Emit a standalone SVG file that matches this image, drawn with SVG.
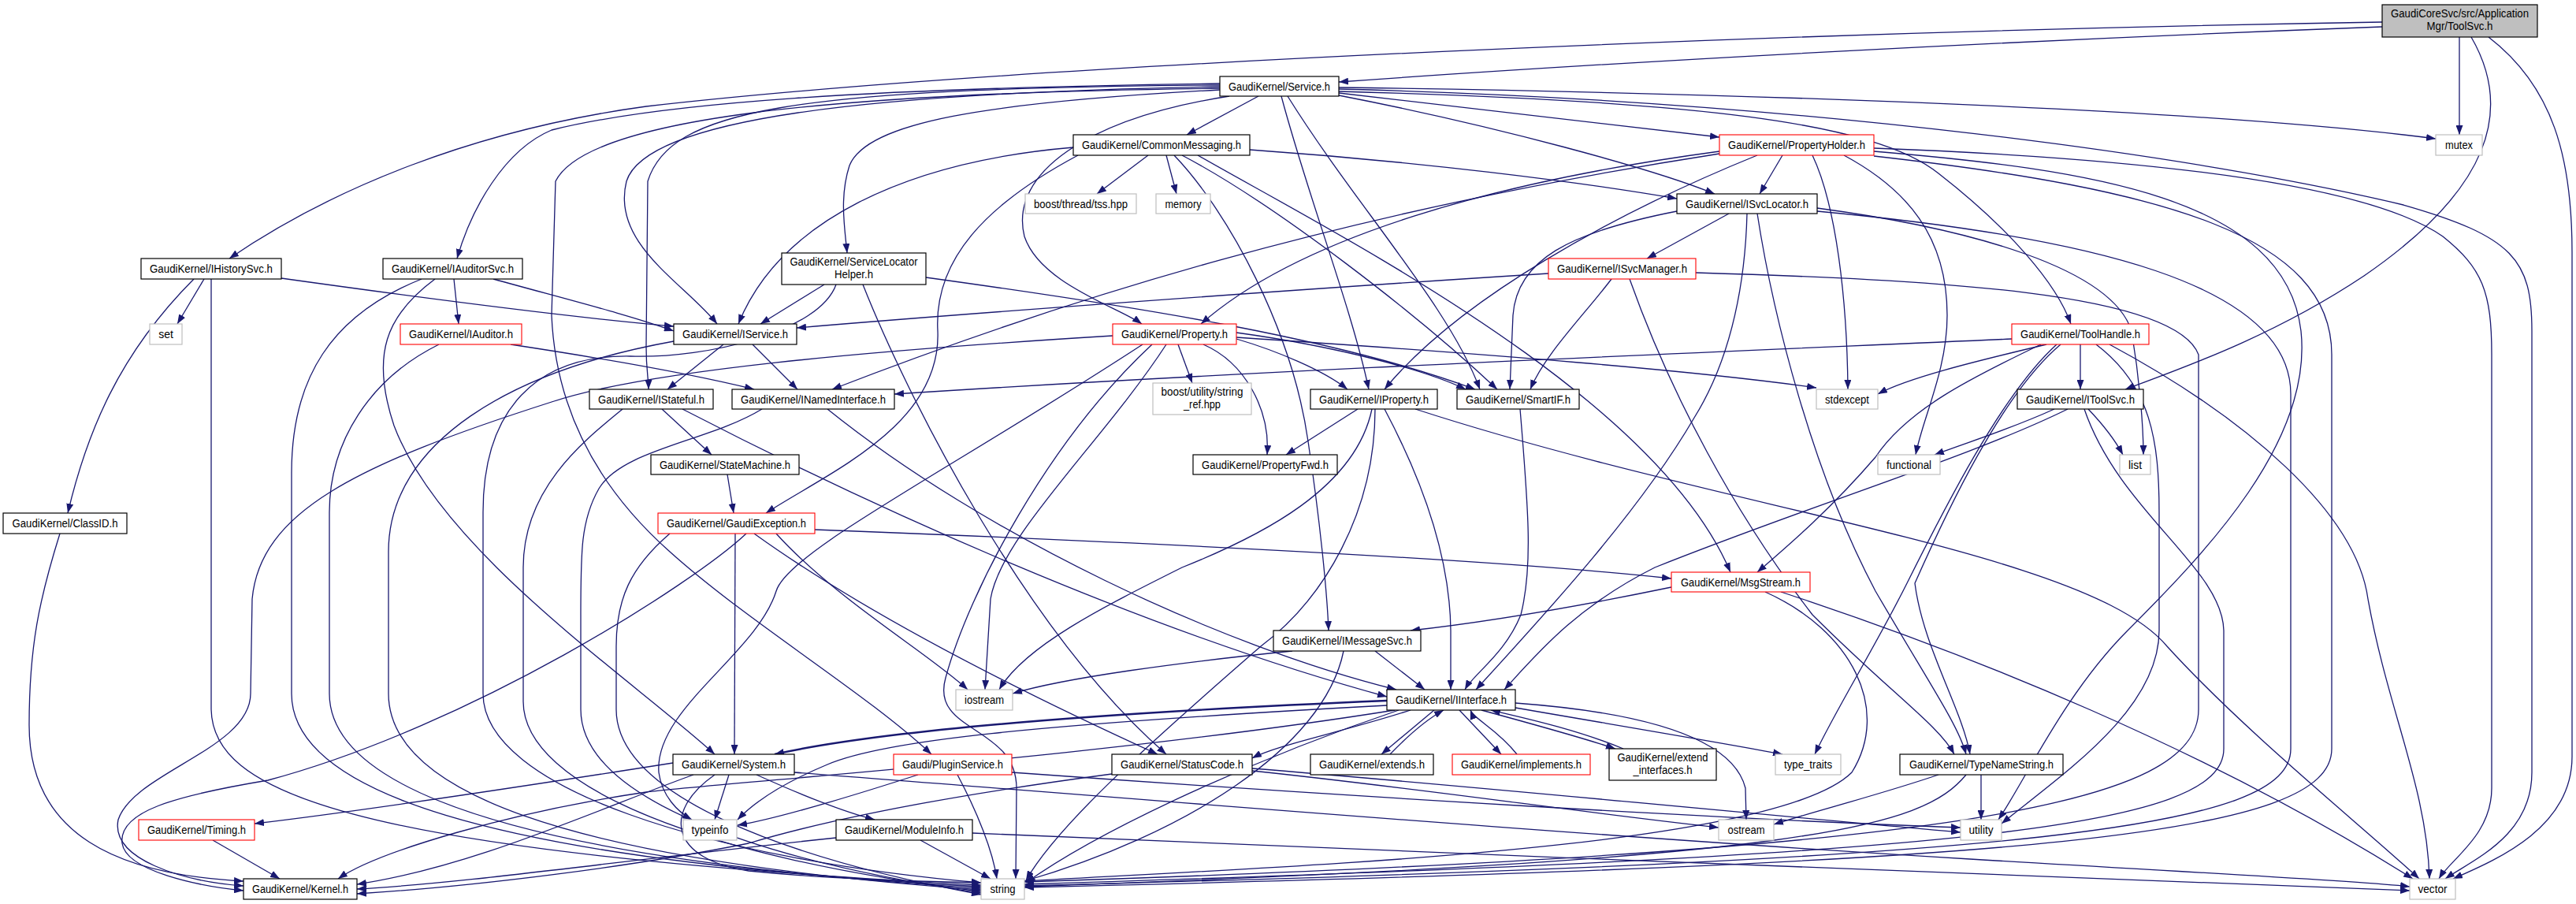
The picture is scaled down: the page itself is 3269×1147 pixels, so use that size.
<svg xmlns="http://www.w3.org/2000/svg" width="3269" height="1147" viewBox="0 0 3269 1147">
<defs>
<marker id="ah" markerUnits="userSpaceOnUse" markerWidth="12" markerHeight="9" refX="12" refY="4.5" orient="auto">
<path d="M0,0 L12,4.5 L0,9 z" fill="#191970"/>
</marker>
<style>
.e{fill:none;stroke:#191970;stroke-width:1.3;marker-end:url(#ah)}
.th{stroke-width:2.4}
.n{fill:#fff;stroke:#000;stroke-width:1.2}
.r{fill:#fff;stroke:#ff0000;stroke-width:1.1}
.g{fill:#fff;stroke:#bfbfbf;stroke-width:1.2}
.root{fill:#bfbfbf;stroke:#000;stroke-width:1.2}
.t{font-family:"Liberation Sans",Arial,sans-serif;font-size:14px;fill:#000;text-anchor:middle}
</style>
</defs>
<rect x="0" y="0" width="3269" height="1147" fill="#fff"/>
<g id="edges">
<path class="e" d="M3023,34 C2600,50 2100,75 1699,104"/>
<path class="e" d="M3023,28 C2300,40 1300,80 820,135 C600,165 420,240 291,328"/>
<path class="e" d="M3121,47 L3121,171"/>
<path class="e" d="M3136,47 C3190,140 3160,240 3000,350 C2880,430 2760,470 2697,494"/>
<path class="e" d="M3158,47 C3240,110 3264,200 3264,320 L3264,960 C3264,1050 3170,1090 3113,1115"/>
<path class="e" d="M1699,111 C2200,118 2800,138 3091,176"/>
<path class="e" d="M1699,113 C2300,128 2800,200 3050,260 C3190,300 3213,330 3213,420 L3213,980 C3213,1060 3140,1090 3103,1115"/>
<path class="e" d="M1699,116 C2150,128 2380,155 2460,220 C2550,290 2610,360 2628,411"/>
<path class="e" d="M1699,118 L2182,174"/>
<path class="e" d="M1699,121 C1900,160 2100,215 2176,246"/>
<path class="e" d="M1634,122 C1720,260 1840,390 1878,494"/>
<path class="e" d="M1626,122 C1660,250 1715,390 1737,494"/>
<path class="e" d="M1560,122 C1380,150 1280,220 1300,300 C1320,360 1420,390 1449,411"/>
<path class="e" d="M1597,122 L1506,171"/>
<path class="e" d="M1548,110 C1100,118 820,150 795,230 C775,310 870,360 910,411"/>
<path class="e" d="M1548,108 C1000,112 850,140 822,230 L820,440 C820,470 823,480 823,494"/>
<path class="e" d="M1548,106 C1100,112 840,130 700,165 C640,190 598,265 580,328"/>
<path class="e" d="M1548,114 C1250,130 1100,155 1078,210 C1065,250 1072,290 1075,321"/>
<path class="e" d="M1548,112 C1050,118 745,150 705,230 L700,400 C705,520 760,620 850,700 C950,790 1100,880 1182,957"/>
<path class="e" d="M1457,197 L1392,246"/>
<path class="e" d="M1480,197 L1493,246"/>
<path class="e" d="M1362,187 C1150,205 990,280 937,411"/>
<path class="e" d="M1586,190 C1800,205 2000,230 2128,252"/>
<path class="e" d="M1500,197 C1620,260 1800,400 1900,494"/>
<path class="e" d="M1520,197 C1700,300 2100,500 2196,726"/>
<path class="e" d="M1490,197 C1560,270 1640,420 1660,560 C1675,660 1684,750 1686,800"/>
<path class="e" d="M1368,197 C1250,260 1185,330 1190,420 C1195,540 1050,600 972,651"/>
<path class="e" d="M2262,197 L2233,246"/>
<path class="e" d="M2182,192 C1900,230 1650,300 1524,411"/>
<path class="e" d="M2230,197 C2050,270 1850,380 1757,494"/>
<path class="e" d="M2182,195 C1700,270 1350,380 1056,494"/>
<path class="e" d="M2300,197 C2330,260 2344,380 2345,494"/>
<path class="e" d="M2340,197 C2420,240 2471,300 2471,400 C2471,470 2440,530 2431,577"/>
<path class="e" d="M2378,192 C2650,215 2900,250 2920,420 C2935,560 2800,700 2700,800 C2620,880 2570,990 2536,1040"/>
<path class="e" d="M2378,198 C2750,240 2959,300 2959,450 L2959,950 C2959,1060 2600,1095 1300,1126"/>
<path class="e" d="M2378,188 C2700,200 3000,230 3100,300 C3150,340 3162,370 3162,450 L3162,1000 C3162,1060 3110,1090 3095,1115"/>
<path class="e" d="M2194,271 L2090,328"/>
<path class="e" d="M2128,268 C1990,295 1925,330 1920,400 L1916,494"/>
<path class="e" d="M2217,271 C2215,350 2200,450 2150,530 C2080,650 1960,780 1873,875"/>
<path class="e" d="M2230,271 C2250,400 2300,600 2380,750 C2450,870 2485,920 2495,957"/>
<path class="e" d="M2306,264 C2500,290 2680,340 2705,420 C2715,480 2720,540 2720,577"/>
<path class="e" d="M2306,268 C2650,300 2907,360 2907,500 L2907,950 C2907,1050 2600,1090 1300,1124"/>
<path class="e" d="M1965,347 C1600,370 1200,400 1011,416"/>
<path class="e" d="M2045,354 C2010,400 1960,450 1942,494"/>
<path class="e" d="M2068,354 C2120,500 2200,650 2300,780 C2400,880 2460,920 2480,957"/>
<path class="e" d="M2152,346 C2450,355 2760,370 2790,450 L2790,900 C2790,1020 2500,1080 1300,1119"/>
<path class="e" d="M1046,361 L965,411"/>
<path class="e" d="M1175,352 C1450,390 1700,430 1872,494"/>
<path class="e" d="M1095,361 C1150,500 1300,800 1480,957"/>
<path class="e" d="M1061,361 C1040,420 900,455 800,452 C680,450 613,520 613,650 L613,880 C613,1000 900,1090 1245,1120"/>
<path class="e" d="M357,353 C550,380 750,405 855,414"/>
<path class="e" d="M246,354 C150,450 110,550 86,651"/>
<path class="e" d="M259,354 L225,411"/>
<path class="e" d="M268,354 L268,900 C270,1000 420,1080 1245,1123"/>
<path class="e" d="M626,354 C720,380 800,400 855,420"/>
<path class="e" d="M576,354 L582,411"/>
<path class="e" d="M552,354 C490,400 470,450 500,540 C560,700 800,860 907,957"/>
<path class="e" d="M535,354 C420,400 370,480 370,600 L370,880 C370,1000 600,1090 1245,1125"/>
<path class="e" d="M648,437 C800,460 900,480 957,494"/>
<path class="e" d="M557,437 C470,480 418,560 418,650 L418,880 C418,1000 650,1090 1245,1127"/>
<path class="e" d="M76,677 C50,760 37,820 37,920 C37,1060 150,1110 309,1118"/>
<path class="e" d="M955,437 L1012,494"/>
<path class="e" d="M918,437 L847,494"/>
<path class="e" d="M855,433 C650,470 493,560 493,700 L493,880 C493,1000 700,1090 1245,1129"/>
<path class="e" d="M866,519 C1100,640 1450,800 1760,884"/>
<path class="e" d="M840,519 L903,577"/>
<path class="e" d="M790,519 C740,560 664,620 664,720 L664,890 C664,1000 900,1090 1245,1131"/>
<path class="e" d="M1050,519 C1250,680 1550,820 1772,875"/>
<path class="e" d="M967,519 C900,560 790,570 760,620 C737,660 737,700 737,780 L737,900 C737,1010 950,1090 1245,1133"/>
<path class="e" d="M923,602 L931,651"/>
<path class="e" d="M1034,672 C1500,690 1900,710 2121,734"/>
<path class="e" d="M933,677 L932,957"/>
<path class="e" d="M957,677 C1100,780 1300,880 1469,957"/>
<path class="e" d="M947,677 C880,740 600,920 340,990 C220,1010 150,1030 155,1070 C160,1105 250,1124 309,1130"/>
<path class="e" d="M850,677 C800,720 782,760 782,820 L782,900 C782,1010 1000,1090 1245,1135"/>
<path class="e" d="M985,677 C1060,760 1180,830 1228,875"/>
<path class="e" d="M1569,430 C1620,445 1680,470 1710,494"/>
<path class="e" d="M1569,422 C1700,440 1810,470 1860,494"/>
<path class="e" d="M1527,437 C1580,460 1612,520 1608,577"/>
<path class="e" d="M1495,437 L1513,486"/>
<path class="e" d="M1569,428 C1900,450 2150,470 2305,492"/>
<path class="e" d="M1412,426 C1100,445 820,470 700,510 C450,590 330,650 320,760 L318,880 C318,950 170,980 150,1040 C140,1090 230,1118 309,1124"/>
<path class="e" d="M1462,437 C1330,560 1230,750 1200,860 C1180,930 1290,920 1290,1000 L1289,1115"/>
<path class="e" d="M1450,437 C1200,600 1000,700 985,750 C960,830 830,900 836,980 C840,1010 860,1030 878,1040"/>
<path class="e" d="M1480,437 C1400,560 1270,680 1257,760 L1250,875"/>
<path class="e" d="M1723,519 L1632,577"/>
<path class="e" d="M1757,519 C1800,600 1840,700 1841,800 L1841,875"/>
<path class="e" d="M1741,519 C1720,620 1600,680 1500,720 C1400,770 1300,820 1268,875"/>
<path class="e" d="M1745,519 C1745,650 1680,760 1600,820 C1450,950 1340,1050 1302,1117"/>
<path class="e" d="M1796,519 C2200,650 2650,700 2750,820 C2850,930 3000,1050 3070,1115"/>
<path class="e" d="M1929,519 C1940,650 1945,720 1930,780 C1910,830 1870,855 1859,875"/>
<path class="e" d="M2640,437 L2640,494"/>
<path class="e" d="M2553,430 C2100,450 1600,470 1135,500"/>
<path class="e" d="M2597,437 C2500,460 2420,480 2383,500"/>
<path class="e" d="M2615,437 C2540,500 2470,650 2430,740 C2440,820 2490,900 2500,957"/>
<path class="e" d="M2610,437 C2540,500 2465,650 2420,740 C2380,820 2330,900 2303,957"/>
<path class="e" d="M2660,437 C2730,490 2740,560 2740,650 L2740,800 C2740,900 2620,980 2540,1045"/>
<path class="e" d="M2677,437 C2850,530 2990,650 3005,760 C3030,900 3080,1000 3083,1115"/>
<path class="e" d="M2590,437 C2500,480 2420,520 2380,580 C2320,650 2260,700 2230,726"/>
<path class="e" d="M2607,519 C2550,545 2500,560 2455,577"/>
<path class="e" d="M2650,519 C2670,540 2685,560 2694,577"/>
<path class="e" d="M2624,519 C2500,580 2300,640 2100,720 C2000,770 1950,830 1909,875"/>
<path class="e" d="M2645,519 C2690,650 2820,720 2822,800 L2822,950 C2822,1050 2500,1085 1300,1122"/>
<path class="e th" d="M1760,889 C1500,900 1150,920 983,957"/>
<path class="e" d="M1790,901 C1700,930 1620,945 1589,962"/>
<path class="e" d="M1770,901 C1400,960 950,990 820,1005 C650,1030 480,1080 429,1115"/>
<path class="e" d="M1760,895 C1300,920 1120,940 1050,970 C990,995 955,1020 936,1040"/>
<path class="e" d="M1923,892 C2100,905 2200,940 2215,1000 L2216,1040"/>
<path class="e" d="M1923,898 C2080,925 2200,945 2262,957"/>
<path class="e" d="M1775,901 C1600,960 1400,1050 1302,1120"/>
<path class="e" d="M1820,901 L1753,957"/>
<path class="e" d="M1852,901 L1905,957"/>
<path class="e" d="M1880,901 C1950,920 2020,940 2050,950"/>
<path class="e" d="M1764,957 C1790,930 1812,912 1832,901"/>
<path class="e" d="M1925,957 C1900,925 1870,912 1866,901"/>
<path class="e" d="M2060,950 C2000,925 1930,910 1892,901"/>
<path class="e" d="M880,983 C750,1030 600,1100 453,1122"/>
<path class="e" d="M854,968 C650,1000 450,1030 323,1045"/>
<path class="e" d="M960,983 C1020,1010 1070,1030 1110,1040"/>
<path class="e" d="M925,983 L907,1040"/>
<path class="e" d="M907,983 C840,1030 850,1090 950,1105 C1050,1115 1150,1118 1245,1120"/>
<path class="e" d="M1008,980 C1400,1010 2000,1060 2500,1090 C2800,1108 3000,1118 3058,1125"/>
<path class="e" d="M270,1066 L355,1115"/>
<path class="e" d="M1061,1063 C800,1090 600,1120 453,1128"/>
<path class="e" d="M1168,1066 L1257,1115"/>
<path class="e" d="M1234,1057 C1800,1080 2600,1115 3058,1130"/>
<path class="e" d="M1165,983 C1050,1020 980,1040 936,1047"/>
<path class="e" d="M1215,983 C1240,1030 1260,1080 1265,1115"/>
<path class="e" d="M1284,980 C1700,1010 2200,1040 2488,1050"/>
<path class="e" d="M1411,982 C1200,1010 1050,1040 950,1070 C800,1100 600,1125 453,1134"/>
<path class="e" d="M1589,978 C1800,1000 2000,1030 2181,1050"/>
<path class="e" d="M1589,975 C1900,1000 2300,1040 2488,1056"/>
<path class="e" d="M2514,983 L2514,1040"/>
<path class="e" d="M2460,983 C2380,1010 2300,1030 2251,1046"/>
<path class="e" d="M2495,983 C2440,1050 2300,1090 1300,1125"/>
<path class="e" d="M2121,745 C2000,770 1880,790 1790,800"/>
<path class="e" d="M2240,751 C2350,800 2400,900 2350,980 C2250,1080 1600,1100 1300,1118"/>
<path class="e" d="M2260,751 C2500,830 2800,950 3062,1115"/>
<path class="e" d="M1745,826 L1808,875"/>
<path class="e" d="M1640,826 C1500,840 1350,860 1285,880"/>
<path class="e" d="M1705,826 C1680,950 1500,1060 1300,1118"/>
</g>
<g id="n_toolsvc"><rect class="root" x="3023" y="6" width="197" height="41"/><text class="t" x="3121.5" y="22" textLength="175" lengthAdjust="spacingAndGlyphs">GaudiCoreSvc/src/Application</text><text class="t" x="3121.5" y="38" textLength="84" lengthAdjust="spacingAndGlyphs">Mgr/ToolSvc.h</text></g>
<g id="n_service"><rect class="n" x="1548" y="97" width="151" height="25"/><text class="t" x="1623.5" y="115" textLength="129" lengthAdjust="spacingAndGlyphs">GaudiKernel/Service.h</text></g>
<g id="n_commonmessaging"><rect class="n" x="1362" y="171" width="224" height="26"/><text class="t" x="1474" y="189" textLength="202" lengthAdjust="spacingAndGlyphs">GaudiKernel/CommonMessaging.h</text></g>
<g id="n_propertyholder"><rect class="r" x="2182" y="171" width="196" height="26"/><text class="t" x="2280" y="189" textLength="174" lengthAdjust="spacingAndGlyphs">GaudiKernel/PropertyHolder.h</text></g>
<g id="n_mutex"><rect class="g" x="3091" y="171" width="59" height="26"/><text class="t" x="3120.5" y="189" textLength="35" lengthAdjust="spacingAndGlyphs">mutex</text></g>
<g id="n_tss"><rect class="g" x="1301" y="246" width="141" height="25"/><text class="t" x="1371.5" y="264" textLength="119" lengthAdjust="spacingAndGlyphs">boost/thread/tss.hpp</text></g>
<g id="n_memory"><rect class="g" x="1467" y="246" width="69" height="25"/><text class="t" x="1501.5" y="264" textLength="46" lengthAdjust="spacingAndGlyphs">memory</text></g>
<g id="n_isvclocator"><rect class="n" x="2128" y="246" width="178" height="25"/><text class="t" x="2217" y="264" textLength="156" lengthAdjust="spacingAndGlyphs">GaudiKernel/ISvcLocator.h</text></g>
<g id="n_servicelocatorhelper"><rect class="n" x="992" y="321" width="183" height="40"/><text class="t" x="1083.5" y="337" textLength="162" lengthAdjust="spacingAndGlyphs">GaudiKernel/ServiceLocator</text><text class="t" x="1083.5" y="353" textLength="49" lengthAdjust="spacingAndGlyphs">Helper.h</text></g>
<g id="n_ihistorysvc"><rect class="n" x="179" y="328" width="178" height="26"/><text class="t" x="268" y="346" textLength="156" lengthAdjust="spacingAndGlyphs">GaudiKernel/IHistorySvc.h</text></g>
<g id="n_iauditorsvc"><rect class="n" x="486" y="328" width="177" height="26"/><text class="t" x="574.5" y="346" textLength="155" lengthAdjust="spacingAndGlyphs">GaudiKernel/IAuditorSvc.h</text></g>
<g id="n_isvcmanager"><rect class="r" x="1965" y="328" width="187" height="26"/><text class="t" x="2058.5" y="346" textLength="165" lengthAdjust="spacingAndGlyphs">GaudiKernel/ISvcManager.h</text></g>
<g id="n_set"><rect class="g" x="190" y="411" width="41" height="26"/><text class="t" x="210.5" y="429">set</text></g>
<g id="n_iauditor"><rect class="r" x="508" y="411" width="154" height="26"/><text class="t" x="585" y="429" textLength="132" lengthAdjust="spacingAndGlyphs">GaudiKernel/IAuditor.h</text></g>
<g id="n_iservice"><rect class="n" x="855" y="411" width="156" height="26"/><text class="t" x="933" y="429" textLength="134" lengthAdjust="spacingAndGlyphs">GaudiKernel/IService.h</text></g>
<g id="n_property"><rect class="r" x="1412" y="411" width="157" height="26"/><text class="t" x="1490.5" y="429" textLength="135" lengthAdjust="spacingAndGlyphs">GaudiKernel/Property.h</text></g>
<g id="n_toolhandle"><rect class="r" x="2553" y="411" width="174" height="26"/><text class="t" x="2640" y="429" textLength="152" lengthAdjust="spacingAndGlyphs">GaudiKernel/ToolHandle.h</text></g>
<g id="n_istateful"><rect class="n" x="748" y="494" width="157" height="25"/><text class="t" x="826.5" y="512" textLength="135" lengthAdjust="spacingAndGlyphs">GaudiKernel/IStateful.h</text></g>
<g id="n_inamedinterface"><rect class="n" x="929" y="494" width="206" height="25"/><text class="t" x="1032" y="512" textLength="184" lengthAdjust="spacingAndGlyphs">GaudiKernel/INamedInterface.h</text></g>
<g id="n_stringref"><rect class="g" x="1463" y="486" width="125" height="40"/><text class="t" x="1525.5" y="502" textLength="104" lengthAdjust="spacingAndGlyphs">boost/utility/string</text><text class="t" x="1525.5" y="518" textLength="47" lengthAdjust="spacingAndGlyphs">_ref.hpp</text></g>
<g id="n_iproperty"><rect class="n" x="1663" y="494" width="161" height="25"/><text class="t" x="1743.5" y="512" textLength="139" lengthAdjust="spacingAndGlyphs">GaudiKernel/IProperty.h</text></g>
<g id="n_smartif"><rect class="n" x="1849" y="494" width="155" height="25"/><text class="t" x="1926.5" y="512" textLength="133" lengthAdjust="spacingAndGlyphs">GaudiKernel/SmartIF.h</text></g>
<g id="n_stdexcept"><rect class="g" x="2305" y="494" width="78" height="25"/><text class="t" x="2344" y="512" textLength="56" lengthAdjust="spacingAndGlyphs">stdexcept</text></g>
<g id="n_itoolsvc"><rect class="n" x="2560" y="494" width="160" height="25"/><text class="t" x="2640" y="512" textLength="138" lengthAdjust="spacingAndGlyphs">GaudiKernel/IToolSvc.h</text></g>
<g id="n_statemachine"><rect class="n" x="826" y="577" width="188" height="25"/><text class="t" x="920" y="595" textLength="166" lengthAdjust="spacingAndGlyphs">GaudiKernel/StateMachine.h</text></g>
<g id="n_propertyfwd"><rect class="n" x="1514" y="577" width="183" height="25"/><text class="t" x="1605.5" y="595" textLength="161" lengthAdjust="spacingAndGlyphs">GaudiKernel/PropertyFwd.h</text></g>
<g id="n_functional"><rect class="g" x="2383" y="577" width="79" height="25"/><text class="t" x="2422.5" y="595" textLength="57" lengthAdjust="spacingAndGlyphs">functional</text></g>
<g id="n_list"><rect class="g" x="2690" y="577" width="39" height="25"/><text class="t" x="2709.5" y="595">list</text></g>
<g id="n_classid"><rect class="n" x="4" y="651" width="157" height="26"/><text class="t" x="82.5" y="669" textLength="134" lengthAdjust="spacingAndGlyphs">GaudiKernel/ClassID.h</text></g>
<g id="n_gaudiexception"><rect class="r" x="835" y="651" width="199" height="26"/><text class="t" x="934.5" y="669" textLength="177" lengthAdjust="spacingAndGlyphs">GaudiKernel/GaudiException.h</text></g>
<g id="n_msgstream"><rect class="r" x="2121" y="726" width="176" height="25"/><text class="t" x="2209" y="744" textLength="152" lengthAdjust="spacingAndGlyphs">GaudiKernel/MsgStream.h</text></g>
<g id="n_imessagesvc"><rect class="n" x="1616" y="800" width="187" height="26"/><text class="t" x="1709.5" y="818" textLength="165" lengthAdjust="spacingAndGlyphs">GaudiKernel/IMessageSvc.h</text></g>
<g id="n_iinterface"><rect class="n" x="1760" y="875" width="163" height="26"/><text class="t" x="1841.5" y="893" textLength="141" lengthAdjust="spacingAndGlyphs">GaudiKernel/IInterface.h</text></g>
<g id="n_iostream"><rect class="g" x="1213" y="875" width="72" height="26"/><text class="t" x="1249" y="893" textLength="50" lengthAdjust="spacingAndGlyphs">iostream</text></g>
<g id="n_system"><rect class="n" x="854" y="957" width="154" height="26"/><text class="t" x="931" y="975" textLength="132" lengthAdjust="spacingAndGlyphs">GaudiKernel/System.h</text></g>
<g id="n_pluginservice"><rect class="r" x="1134" y="957" width="150" height="26"/><text class="t" x="1209" y="975" textLength="128" lengthAdjust="spacingAndGlyphs">Gaudi/PluginService.h</text></g>
<g id="n_statuscode"><rect class="n" x="1411" y="957" width="178" height="26"/><text class="t" x="1500" y="975" textLength="156" lengthAdjust="spacingAndGlyphs">GaudiKernel/StatusCode.h</text></g>
<g id="n_extends"><rect class="n" x="1663" y="957" width="156" height="26"/><text class="t" x="1741" y="975" textLength="134" lengthAdjust="spacingAndGlyphs">GaudiKernel/extends.h</text></g>
<g id="n_implements"><rect class="r" x="1843" y="957" width="175" height="26"/><text class="t" x="1930.5" y="975" textLength="153" lengthAdjust="spacingAndGlyphs">GaudiKernel/implements.h</text></g>
<g id="n_extendinterfaces"><rect class="n" x="2042" y="950" width="136" height="40"/><text class="t" x="2110" y="966" textLength="115" lengthAdjust="spacingAndGlyphs">GaudiKernel/extend</text><text class="t" x="2110" y="982" textLength="75" lengthAdjust="spacingAndGlyphs">_interfaces.h</text></g>
<g id="n_typetraits"><rect class="g" x="2253" y="957" width="83" height="26"/><text class="t" x="2294.5" y="975" textLength="61" lengthAdjust="spacingAndGlyphs">type_traits</text></g>
<g id="n_typenamestring"><rect class="n" x="2411" y="957" width="207" height="26"/><text class="t" x="2514.5" y="975" textLength="183" lengthAdjust="spacingAndGlyphs">GaudiKernel/TypeNameString.h</text></g>
<g id="n_timing"><rect class="r" x="176" y="1040" width="147" height="26"/><text class="t" x="249.5" y="1058" textLength="125" lengthAdjust="spacingAndGlyphs">GaudiKernel/Timing.h</text></g>
<g id="n_typeinfo"><rect class="g" x="867" y="1040" width="68" height="26"/><text class="t" x="901" y="1058" textLength="47" lengthAdjust="spacingAndGlyphs">typeinfo</text></g>
<g id="n_moduleinfo"><rect class="n" x="1061" y="1040" width="173" height="26"/><text class="t" x="1147.5" y="1058" textLength="151" lengthAdjust="spacingAndGlyphs">GaudiKernel/ModuleInfo.h</text></g>
<g id="n_ostream"><rect class="g" x="2181" y="1040" width="70" height="26"/><text class="t" x="2216" y="1058" textLength="47" lengthAdjust="spacingAndGlyphs">ostream</text></g>
<g id="n_utility"><rect class="g" x="2488" y="1040" width="52" height="26"/><text class="t" x="2514" y="1058" textLength="31" lengthAdjust="spacingAndGlyphs">utility</text></g>
<g id="n_kernel"><rect class="n" x="309" y="1115" width="144" height="26"/><text class="t" x="381" y="1133" textLength="122" lengthAdjust="spacingAndGlyphs">GaudiKernel/Kernel.h</text></g>
<g id="n_string"><rect class="g" x="1245" y="1115" width="55" height="26"/><text class="t" x="1272.5" y="1133" textLength="32" lengthAdjust="spacingAndGlyphs">string</text></g>
<g id="n_vector"><rect class="g" x="3058" y="1115" width="58" height="26"/><text class="t" x="3087" y="1133" textLength="37" lengthAdjust="spacingAndGlyphs">vector</text></g>
</svg>
